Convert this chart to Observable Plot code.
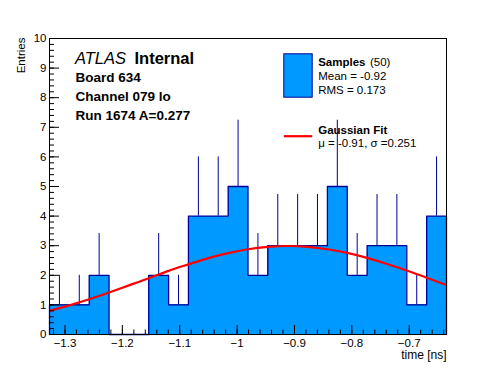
<!DOCTYPE html>
<html>
<head>
<meta charset="utf-8">
<script src="https://cdn.jsdelivr.net/npm/d3@7"></script>
<script src="https://cdn.jsdelivr.net/npm/@observablehq/plot@0.6"></script>
<style>
  html, body { margin: 0; padding: 0; background: white; }
  #chart { width: 496px; height: 372px; }
</style>
</head>
<body>
<div id="chart"></div>
<script>
// ---- data ----
const xMin = -1.327;
const xMax = -0.635;
const counts = [1, 1, 2, 0, 0, 2, 1, 4, 4, 5, 2, 3, 3, 3, 5, 2, 3, 3, 1, 4];
const errors = [1, 1, 1.41, 0, 0, 1.41, 1, 2, 2, 2.24, 1.41, 1.73, 1.73, 1.73, 2.24, 1.41, 1.73, 1.73, 1, 2];
const fitX = [-1.327, -1.2924, -1.2578, -1.2232, -1.1886, -1.154, -1.1194, -1.0848, -1.0502, -1.0156, -0.981,
              -0.9464, -0.9118, -0.8772, -0.8426, -0.808, -0.7734, -0.7388, -0.7042, -0.6696, -0.635];
const fitY = [0.80, 0.985, 1.19, 1.42, 1.66, 1.90, 2.15, 2.37, 2.58, 2.75, 2.88,
              2.96, 2.99, 2.96, 2.88, 2.76, 2.59, 2.38, 2.16, 1.92, 1.67];
const xTicks = [-1.3, -1.2, -1.1, -1.0, -0.9, -0.8, -0.7];
const yTicks = [0, 1, 2, 3, 4, 5, 6, 7, 8, 9, 10];
const headerTexts = ["Board 634", "Channel 079 lo", "Run 1674 A=0.277"];
const legendSamples = ["Mean = -0.92", "RMS = 0.173"];
const legendFit = "\u03bc = -0.91, \u03c3 =0.251";

// ---- derived tables ----
const nBins = counts.length;
const bw = (xMax - xMin) / nBins;
const bins = counts.map((n, i) => ({lo: xMin + i * bw, hi: xMin + (i + 1) * bw, c: xMin + (i + 0.5) * bw, n, e: errors[i]}));
const outline = [{x: xMin, y: 0}, ...bins.map(b => ({x: b.lo, y: b.n})), {x: xMax, y: counts[nBins - 1]}, {x: xMax, y: 0}];
const fit = fitX.map((x, i) => ({x, y: fitY[i]}));
const xMinor = d3.range(-1.32, -0.635, 0.02).map(v => +v.toFixed(2));
const yMinor = d3.range(0, 10.001, 0.2).map(v => +v.toFixed(1));

const FONT = "'Liberation Sans', Arial, Helvetica, sans-serif";
const FILL = "#0099ff";
const LINE = "#000099";
const W = 496, H = 372, ML = 49, MR = 50, MT = 38, MB = 38;
const FW = W - ML - MR, FH = H - MT - MB;

const headerDy = [43, 62.7, 81.5];
const headerMarks = headerTexts.map((t, i) =>
  Plot.text([t], {text: d => d, frameAnchor: "top-left", dx: 26, dy: headerDy[i], textAnchor: "start", lineAnchor: "bottom", fontSize: 13.5, fontWeight: "bold"}));
const sampleDy = [41, 55.3];
const sampleMarks = legendSamples.map((t, i) =>
  Plot.text([t], {text: d => d, frameAnchor: "top-left", dx: 268.7, dy: sampleDy[i], textAnchor: "start", lineAnchor: "bottom", fontSize: 11.5}));

const chart = Plot.plot({
  width: W, height: H,
  marginLeft: ML, marginRight: MR, marginTop: MT, marginBottom: MB,
  style: {fontFamily: FONT, fontSize: "11.5px", background: "white", color: "black"},
  x: {domain: [xMin, xMax], axis: null},
  y: {domain: [0, 10], axis: null},
  marks: [
    Plot.rect(bins.filter(b => b.n > 0), {x1: "lo", x2: "hi", y1: 0, y2: "n", fill: FILL, shapeRendering: "crispEdges"}),
    Plot.ruleX(bins.filter(b => b.n > 0), {x: "c", y1: "n", y2: d => d.n + d.e, stroke: LINE, strokeWidth: 1}),
    Plot.line(outline, {x: "x", y: "y", curve: "step-after", stroke: LINE, strokeWidth: 1.3}),
    Plot.line(fit, {x: "x", y: "y", curve: "natural", stroke: "#ff0000", strokeWidth: 2.2, clip: true}),
    // ticks (inside the frame)
    Plot.tickX(xMinor, {x: d => d, insetTop: FH - 4.5, stroke: "black"}),
    Plot.tickX(xTicks, {x: d => d, insetTop: FH - 9, stroke: "black"}),
    Plot.tickY(yMinor, {y: d => d, insetRight: FW - 5, stroke: "black"}),
    Plot.tickY(yTicks, {y: d => d, insetRight: FW - 10, stroke: "black"}),
    Plot.frame({stroke: "black", strokeWidth: 1}),
    Plot.axisX({ticks: xTicks, tickSize: 0, tickPadding: 4, tickFormat: d3.format("~g"), label: null, fontSize: 11.5}),
    Plot.axisY({ticks: yTicks, tickSize: 0, tickPadding: 3, tickFormat: d3.format("~g"), label: null, fontSize: 11.5}),
    // axis titles
    Plot.text(["Entries"], {text: d => d, frameAnchor: "top-left", dx: -25, dy: -1, rotate: -90, textAnchor: "end", lineAnchor: "bottom", fontSize: 11.5}),
    Plot.text(["time [ns]"], {text: d => d, frameAnchor: "bottom-right", dy: 24.5, textAnchor: "end", lineAnchor: "bottom", fontSize: 12}),
    // header
    Plot.text(["ATLAS"], {text: d => d, frameAnchor: "top-left", dx: 25.5, dy: 25.3, textAnchor: "start", lineAnchor: "bottom", fontSize: 16.5, fontStyle: "italic"}),
    Plot.text(["Internal"], {text: d => d, frameAnchor: "top-left", dx: 85, dy: 25.3, textAnchor: "start", lineAnchor: "bottom", fontSize: 16.5, fontWeight: "bold"}),
    ...headerMarks,
    // legend
    Plot.frame({fill: FILL, stroke: LINE, strokeWidth: 1, insetLeft: 234.3, insetRight: 134.3, insetTop: 15.3, insetBottom: 237.3}),
    Plot.frame({fill: "#ff0000", stroke: null, insetLeft: 234.3, insetRight: 134.3, insetTop: 96.6, insetBottom: 197.2}),
    Plot.text(["Samples"], {text: d => d, frameAnchor: "top-left", dx: 268.7, dy: 27, textAnchor: "start", lineAnchor: "bottom", fontSize: 11.5, fontWeight: "bold"}),
    Plot.text(["(50)"], {text: d => d, frameAnchor: "top-left", dx: 320.5, dy: 27, textAnchor: "start", lineAnchor: "bottom", fontSize: 11.5}),
    ...sampleMarks,
    Plot.text(["Gaussian Fit"], {text: d => d, frameAnchor: "top-left", dx: 268.7, dy: 95.3, textAnchor: "start", lineAnchor: "bottom", fontSize: 11.5, fontWeight: "bold"}),
    Plot.text([legendFit], {text: d => d, frameAnchor: "top-left", dx: 268.7, dy: 108, textAnchor: "start", lineAnchor: "bottom", fontSize: 11.5})
  ]
});

document.getElementById("chart").appendChild(chart);
</script>
</body>
</html>
